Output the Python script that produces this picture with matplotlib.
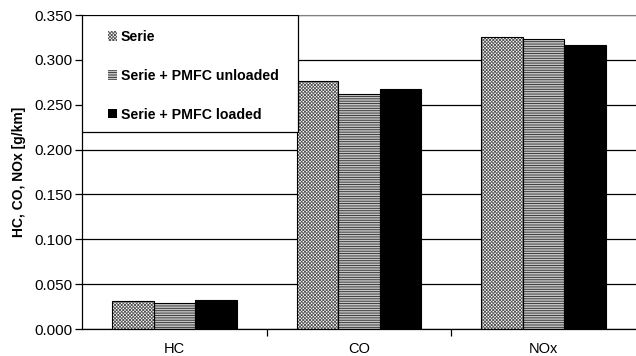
import numpy as np
import matplotlib
matplotlib.use("Agg")
import matplotlib.pyplot as plt
from matplotlib.patches import Rectangle, Patch
from matplotlib.ticker import FormatStrFormatter, MultipleLocator

# emission values per component [g/km]
components = ["HC", "CO", "NOx"]
serie = [0.031, 0.276, 0.326]
pmfc_unloaded = [0.029, 0.262, 0.323]
pmfc_loaded = [0.032, 0.267, 0.317]
series_names = ["Serie", "Serie + PMFC unloaded", "Serie + PMFC loaded"]

plt.rcParams["font.family"] = ["Liberation Sans", "DejaVu Sans"]
plt.rcParams["hatch.linewidth"] = 0.6

fig = plt.figure(figsize=(6.36, 3.56), dpi=100)
ax = fig.add_axes([0.129, 0.0758, 0.871, 0.882])

x = np.arange(len(components))
w = 0.225

# fill + hatch first, then a plain black outline on top
styles = [
    dict(facecolor="white", hatch="xxxxxxxxxx", hatch_color="#555555"),
    dict(facecolor="#c4c4c4", hatch="-------", hatch_color="#2a2a2a"),
    dict(facecolor="black", hatch=None, hatch_color="black"),
]
all_vals = [serie, pmfc_unloaded, pmfc_loaded]
for i, (vals, st) in enumerate(zip(all_vals, styles)):
    pos = x + (i - 1) * w
    ax.bar(pos, vals, w, color=st["facecolor"], hatch=st["hatch"],
           edgecolor=st["hatch_color"], linewidth=0, zorder=2)
    ax.bar(pos, vals, w, fill=False, edgecolor="black", linewidth=0.8, zorder=2.5)

ax.set_xlim(-0.5, 2.5)
ax.set_ylim(0, 0.35)
ax.yaxis.set_major_locator(MultipleLocator(0.05))
ax.yaxis.set_major_formatter(FormatStrFormatter("%.3f"))
ax.grid(axis="y", color="black", linewidth=0.9, zorder=0)
ax.set_axisbelow(True)

ax.set_xticks(x)
ax.set_xticklabels(components, fontsize=10.5)
ax.set_xticks([0.5, 1.5], minor=True)
ax.tick_params(axis="x", which="major", length=0, pad=9)
ax.tick_params(axis="x", which="minor", length=5, width=0.9, direction="out")
ax.tick_params(axis="y", length=5, width=0.9, labelsize=11, pad=2)

ax.spines["right"].set_visible(False)
ax.spines["top"].set_color("#808080")
ax.spines["left"].set_linewidth(0.9)
ax.spines["bottom"].set_linewidth(0.9)

ax.set_ylabel("HC, CO, NOx [g/km]", fontsize=10, fontweight="bold", labelpad=6)

# legend box in the upper left corner
box = Rectangle((0, 0.627), 0.389, 0.373, transform=ax.transAxes,
                facecolor="white", edgecolor="black", linewidth=0.9, zorder=5)
ax.add_patch(box)
handles = [
    Patch(facecolor=st["facecolor"], hatch=st["hatch"], edgecolor=st["hatch_color"], linewidth=0)
    for st in styles
]
leg = ax.legend(handles, series_names, loc="upper left", bbox_to_anchor=(0.047, 0.952),
                frameon=False, borderpad=0, borderaxespad=0, labelspacing=1.75,
                handlelength=0.65, handleheight=0.65, handletextpad=0.25,
                prop={"size": 10.2, "weight": "bold"})
leg.set_zorder(6)

fig.savefig("out.png", dpi=100)
